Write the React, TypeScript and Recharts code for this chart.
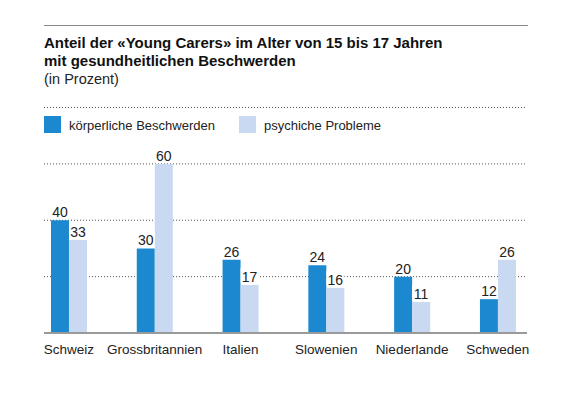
import React from 'react';
import { BarChart, Bar, XAxis, YAxis, CartesianGrid, LabelList, ReferenceLine } from 'recharts';

const countries = ['Schweiz', 'Grossbritannien', 'Italien', 'Slowenien', 'Niederlande', 'Schweden'];
const koerperlich = [40, 30, 26, 24, 20, 12];
const psychisch = [33, 60, 17, 16, 11, 26];
const yTicks = [0, 20, 40, 60, 80];

const DARK = '#1b88d0';
const LIGHT = '#c8d9f1';
const FONT = '"Liberation Sans", Arial, sans-serif';

const data = countries.map((name, i) => ({
  idx: i,
  name,
  koerperlich: koerperlich[i],
  psychisch: psychisch[i],
}));

const ValueLabel = (props: any) => {
  const { x, y, width, value } = props;
  return (
    <g>
      <rect x={x} y={y - 17} width={width} height={15} fill="#fff" />
      <text
        x={x + width / 2}
        y={y - 3}
        textAnchor="middle"
        fontSize={14}
        fontFamily={FONT}
        fill="#222"
      >
        {value}
      </text>
    </g>
  );
};

const LegendItem = ({ color, label }: { color: string; label: string }) => (
  <div style={{ display: 'flex', alignItems: 'flex-start', marginRight: 24 }}>
    <div style={{ width: 17, height: 17, background: color, marginRight: 8 }} />
    <span style={{ fontSize: 13, lineHeight: '17px', color: '#222', marginTop: 1 }}>{label}</span>
  </div>
);

export default function App() {
  return (
    <div style={{ position: 'absolute', left: 0, top: 0, width: 582, height: 397, background: '#fff', fontFamily: FONT }}>
      <div style={{ position: 'absolute', left: 0, top: 0 }}>
        <BarChart
          width={582}
          height={397}
          data={data}
          margin={{ top: 107.5, right: 55, bottom: 34, left: 44 }}
          barGap={0}
          barSize={18}
        >
          <CartesianGrid
            vertical={false}
            stroke="#555"
            strokeDasharray="1 2"
          />
          <XAxis
            dataKey="idx"
            type="number"
            domain={[-0.29, 5.34]}
            ticks={[0, 1, 2, 3, 4, 5]}
            allowDataOverflow
            tickFormatter={(v: number) => countries[v]}
            tickLine={false}
            tickMargin={5}
            axisLine={{ stroke: '#9a9a9a', strokeWidth: 2 }}
            tick={{ fontSize: 13.5, fill: '#222', fontFamily: FONT }}
            interval={0}
          />
          <YAxis hide domain={[0, 80]} ticks={yTicks} />
          <ReferenceLine y={80} stroke="#555" strokeDasharray="1 2" ifOverflow="visible" />
          <Bar dataKey="koerperlich" fill={DARK} isAnimationActive={false}>
            <LabelList dataKey="koerperlich" content={<ValueLabel />} />
          </Bar>
          <Bar dataKey="psychisch" fill={LIGHT} isAnimationActive={false}>
            <LabelList dataKey="psychisch" content={<ValueLabel />} />
          </Bar>
        </BarChart>
      </div>

      <div style={{ position: 'absolute', left: 44, top: 25, width: 484, height: 1, background: '#888' }} />
      <div style={{ position: 'absolute', left: 44, top: 34, fontSize: 15, fontWeight: 700, lineHeight: '17.5px', color: '#111' }}>
        Anteil der «Young Carers» im Alter von 15 bis 17 Jahren
        <br />
        mit gesundheitlichen Beschwerden
      </div>
      <div style={{ position: 'absolute', left: 44, top: 70.5, fontSize: 14.5, lineHeight: '17px', color: '#222' }}>
        (in Prozent)
      </div>
      <div style={{ position: 'absolute', left: 44, top: 115.5, display: 'flex' }}>
        <LegendItem color={DARK} label="körperliche Beschwerden" />
        <LegendItem color={LIGHT} label="psychiche Probleme" />
      </div>
    </div>
  );
}
